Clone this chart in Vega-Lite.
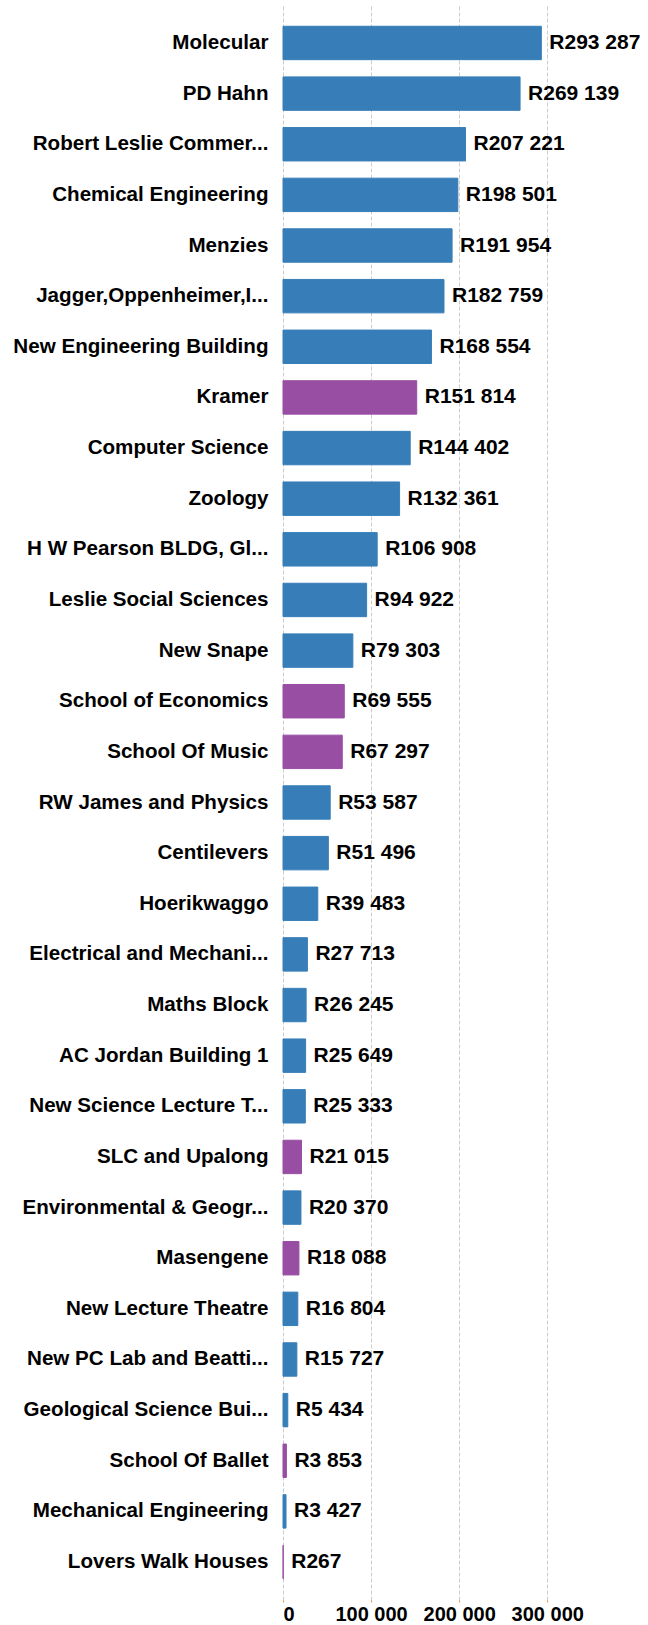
{
  "$schema": "https://vega.github.io/schema/vega-lite/v6.json",
  "autosize": "none",
  "padding": {"left": 283, "top": 5, "right": 25, "bottom": 25},
  "width": 340,
  "height": 1595,
  "background": "white",
  "config": {
    "view": {"stroke": null},
    "locale": {
      "number": {"decimal": ".", "thousands": " ", "grouping": [3], "currency": ["R", ""]}
    },
    "font": "Liberation Sans"
  },
  "data": {
    "values": [
      {"building": "Molecular", "cost": 293287, "group": "A"},
      {"building": "PD Hahn", "cost": 269139, "group": "A"},
      {"building": "Robert Leslie Commer...", "cost": 207221, "group": "A"},
      {"building": "Chemical Engineering", "cost": 198501, "group": "A"},
      {"building": "Menzies", "cost": 191954, "group": "A"},
      {"building": "Jagger,Oppenheimer,I...", "cost": 182759, "group": "A"},
      {"building": "New Engineering Building", "cost": 168554, "group": "A"},
      {"building": "Kramer", "cost": 151814, "group": "B"},
      {"building": "Computer Science", "cost": 144402, "group": "A"},
      {"building": "Zoology", "cost": 132361, "group": "A"},
      {"building": "H W Pearson BLDG, Gl...", "cost": 106908, "group": "A"},
      {"building": "Leslie Social Sciences", "cost": 94922, "group": "A"},
      {"building": "New Snape", "cost": 79303, "group": "A"},
      {"building": "School of Economics", "cost": 69555, "group": "B"},
      {"building": "School Of Music", "cost": 67297, "group": "B"},
      {"building": "RW James and Physics", "cost": 53587, "group": "A"},
      {"building": "Centilevers", "cost": 51496, "group": "A"},
      {"building": "Hoerikwaggo", "cost": 39483, "group": "A"},
      {"building": "Electrical and Mechani...", "cost": 27713, "group": "A"},
      {"building": "Maths Block", "cost": 26245, "group": "A"},
      {"building": "AC Jordan Building 1", "cost": 25649, "group": "A"},
      {"building": "New Science Lecture T...", "cost": 25333, "group": "A"},
      {"building": "SLC and Upalong", "cost": 21015, "group": "B"},
      {"building": "Environmental & Geogr...", "cost": 20370, "group": "A"},
      {"building": "Masengene", "cost": 18088, "group": "B"},
      {"building": "New Lecture Theatre", "cost": 16804, "group": "A"},
      {"building": "New PC Lab and Beatti...", "cost": 15727, "group": "A"},
      {"building": "Geological Science Bui...", "cost": 5434, "group": "A"},
      {"building": "School Of Ballet", "cost": 3853, "group": "B"},
      {"building": "Mechanical Engineering", "cost": 3427, "group": "A"},
      {"building": "Lovers Walk Houses", "cost": 267, "group": "B"}
    ]
  },
  "encoding": {
    "y": {
      "field": "building",
      "type": "nominal",
      "sort": "-x",
      "scale": {"paddingInner": 0.34, "paddingOuter": 0.42},
      "axis": {
        "title": null,
        "domain": false,
        "ticks": false,
        "grid": false,
        "labelPadding": 15,
        "labelFontSize": 20.6,
        "labelFontWeight": "bold",
        "labelColor": "#000000",
        "labelLimit": 400,
        "labelFont": "Liberation Sans"
      }
    },
    "x": {
      "field": "cost",
      "type": "quantitative",
      "scale": {"domain": [0, 386000], "nice": false},
      "axis": {
        "title": null,
        "values": [0, 100000, 200000, 300000],
        "format": ",d",
        "domain": false,
        "grid": true,
        "gridColor": "#cccccc",
        "gridDash": [4, 2],
        "gridWidth": 1,
        "tickColor": "#f28e2b",
        "tickSize": 2,
        "labelPadding": 2,
        "labelFontSize": 20,
        "labelFontWeight": "bold",
        "labelColor": "#000000",
        "labelFont": "Liberation Sans"
      }
    }
  },
  "layer": [
    {
      "mark": {"type": "bar", "strokeWidth": 1},
      "encoding": {
        "color": {
          "field": "group",
          "type": "nominal",
          "scale": {"domain": ["A", "B"], "range": ["#377eb8", "#984ea3"]},
          "legend": null
        },
        "stroke": {
          "field": "group",
          "type": "nominal",
          "scale": {"domain": ["A", "B"], "range": ["#377eb8", "#984ea3"]},
          "legend": null
        }
      }
    },
    {
      "mark": {
        "type": "text",
        "align": "left",
        "baseline": "middle",
        "dx": 8,
        "fontSize": 21,
        "fontWeight": "bold",
        "color": "#000000",
        "font": "Liberation Sans"
      },
      "encoding": {
        "text": {"field": "cost", "type": "quantitative", "format": "$,d"}
      }
    }
  ]
}
